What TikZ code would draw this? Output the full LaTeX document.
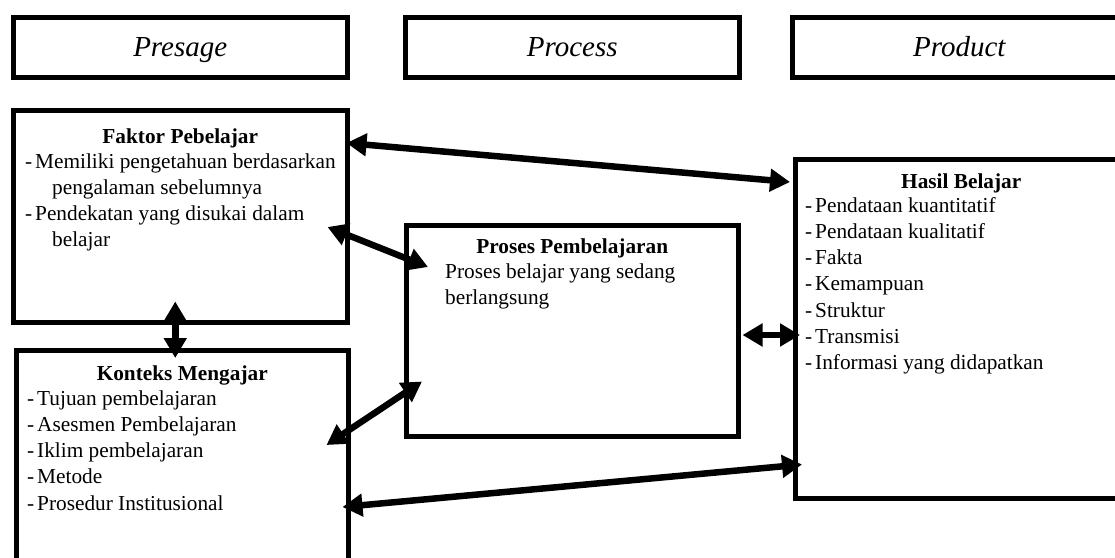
\documentclass[tikz,border=0pt]{standalone}
\usepackage{fontspec}
\setmainfont{Liberation Serif}
\usetikzlibrary{positioning,arrows.meta,calc}
\tikzset{
	frame/.style={draw, line width=4.5pt, inner sep=0pt, anchor=north west},
	stage/.style={font=\fontsize{29}{34}\selectfont\itshape, text height=24pt, text depth=6pt},
	head/.style={font=\fontsize{21.3}{26.3}\selectfont\bfseries, inner sep=0pt, anchor=base},
	items/.style={font=\fontsize{21.3}{26.3}\selectfont, inner sep=0pt, anchor=base west},
	link/.style={line width=6.5pt, {Triangle[length=20pt,width=22pt]}-{Triangle[length=20pt,width=22pt]}}
}
\newcommand{\itm}{\makebox[10pt][l]{-}}
\newcommand{\lines}[1]{\begin{tabular}[t]{@{}l@{}}#1\end{tabular}}
\begin{document}
\begin{tikzpicture}[x=1pt,y=-1pt]
		\useasboundingbox (0,0) rectangle (1115,557);
		\clip (0,0) rectangle (1115,557);
		\node[frame, stage, minimum width=334pt, minimum height=60pt] (presage) at (11,15) {Presage};
		\node[frame, stage, minimum width=334pt, minimum height=60pt] (process) at (403,15) {Process};
		\node[frame, stage, minimum width=334pt, minimum height=60pt] (product) at (790,15) {Product};
		\node[frame, minimum width=334pt, minimum height=212pt] (faktor) at (11,108) {};
		\node[frame, minimum width=332pt, minimum height=240pt] (konteks) at (14,348) {};
		\node[frame, minimum width=332pt, minimum height=211pt] (proses) at (404,223) {};
		\node[frame, minimum width=332pt, minimum height=339pt] (hasil) at (793,157) {};
		\node[head] (faktorhead) at ([yshift=-35pt]faktor.north) {Faktor Pebelajar};
		\node[items] (faktorlist) at ([xshift=14pt,yshift=-60pt]faktor.north west)
		{\lines{\itm Memiliki pengetahuan berdasarkan\\ \hspace{27pt}pengalaman sebelumnya\\
		\itm Pendekatan yang disukai dalam\\ \hspace{27pt}belajar}};
		\node[head] (kontekshead) at ([yshift=-32pt]konteks.north) {Konteks Mengajar};
		\node[items] (kontekslist) at ([xshift=13pt,yshift=-57pt]konteks.north west)
		{\lines{\itm Tujuan pembelajaran\\ \itm Asesmen Pembelajaran\\ \itm Iklim pembelajaran\\
		\itm Metode\\ \itm Prosedur Institusional}};
		\node[head] (proseshead) at ([yshift=-30pt]proses.north) {Proses Pembelajaran};
		\node[items] (proseslist) at ([xshift=41pt,yshift=-55pt]proses.north west)
		{\lines{Proses belajar yang sedang\\ berlangsung}};
		\node[head] (hasilhead) at ([yshift=-31pt]hasil.north) {Hasil Belajar};
		\node[items] (hasillist) at ([xshift=12pt,yshift=-55pt]hasil.north west)
		{\lines{\itm Pendataan kuantitatif\\ \itm Pendataan kualitatif\\ \itm Fakta\\ \itm Kemampuan\\
		\itm Struktur\\ \itm Transmisi\\ \itm Informasi yang didapatkan}};
		\coordinate (A1) at ([xshift=-3pt,yshift=-35pt]faktor.north east);
		\coordinate (B1) at ([xshift=-3pt,yshift=-25pt]hasil.north west);
		\coordinate (A2) at ([xshift=-22pt,yshift=-119pt]faktor.north east);
		\coordinate (B2) at ([xshift=24pt,yshift=-44pt]proses.north west);
		\coordinate (A3) at ([xshift=-5pt,yshift=23pt]faktor.south);
		\coordinate (B3) at ([xshift=-7pt,yshift=-10pt]konteks.north);
		\coordinate (A4) at ([xshift=-24pt,yshift=-97pt]konteks.north east);
		\coordinate (B4) at ([xshift=18pt,yshift=57pt]proses.south west);
		\coordinate (A5) at ([xshift=2pt,yshift=-112pt]proses.north east);
		\coordinate (B5) at ([xshift=7pt,yshift=-178pt]hasil.north west);
		\coordinate (A6) at ([xshift=-8pt,yshift=-159pt]konteks.north east);
		\coordinate (B6) at ([xshift=9pt,yshift=36pt]hasil.south west);
		\draw[link] (A1) -- (B1);
		\draw[link] (A2) -- (B2);
		\draw[link] (A3) -- (B3);
		\draw[link] (A4) -- (B4);
		\draw[link] (A5) -- (B5);
		\draw[link] (A6) -- (B6);
	\end{tikzpicture}
\end{document}
